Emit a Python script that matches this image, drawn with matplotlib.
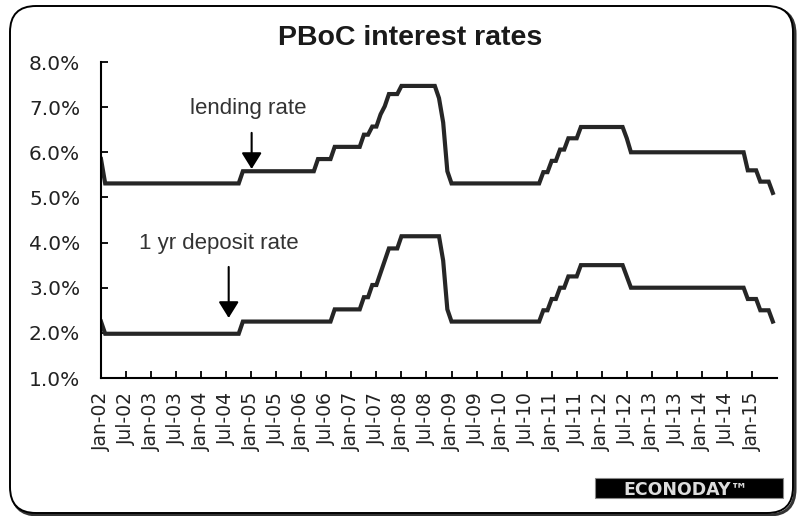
import matplotlib
matplotlib.use("Agg")
import matplotlib.pyplot as plt
from matplotlib.patches import FancyBboxPatch, Rectangle
from matplotlib.transforms import IdentityTransform

# monthly values in percent, Jan-02 .. Jun-15 (one row per year)
lending_rate = [
    5.85, 5.31, 5.31, 5.31, 5.31, 5.31, 5.31, 5.31, 5.31, 5.31, 5.31, 5.31,  # 2002
    5.31, 5.31, 5.31, 5.31, 5.31, 5.31, 5.31, 5.31, 5.31, 5.31, 5.31, 5.31,  # 2003
    5.31, 5.31, 5.31, 5.31, 5.31, 5.31, 5.31, 5.31, 5.31, 5.31, 5.58, 5.58,  # 2004
    5.58, 5.58, 5.58, 5.58, 5.58, 5.58, 5.58, 5.58, 5.58, 5.58, 5.58, 5.58,  # 2005
    5.58, 5.58, 5.58, 5.58, 5.85, 5.85, 5.85, 5.85, 6.12, 6.12, 6.12, 6.12,  # 2006
    6.12, 6.12, 6.12, 6.39, 6.39, 6.57, 6.57, 6.84, 7.02, 7.29, 7.29, 7.29,  # 2007
    7.47, 7.47, 7.47, 7.47, 7.47, 7.47, 7.47, 7.47, 7.47, 7.20, 6.66, 5.58,  # 2008
    5.31, 5.31, 5.31, 5.31, 5.31, 5.31, 5.31, 5.31, 5.31, 5.31, 5.31, 5.31,  # 2009
    5.31, 5.31, 5.31, 5.31, 5.31, 5.31, 5.31, 5.31, 5.31, 5.31, 5.56, 5.56,  # 2010
    5.81, 5.81, 6.06, 6.06, 6.31, 6.31, 6.31, 6.56, 6.56, 6.56, 6.56, 6.56,  # 2011
    6.56, 6.56, 6.56, 6.56, 6.56, 6.56, 6.31, 6.00, 6.00, 6.00, 6.00, 6.00,  # 2012
    6.00, 6.00, 6.00, 6.00, 6.00, 6.00, 6.00, 6.00, 6.00, 6.00, 6.00, 6.00,  # 2013
    6.00, 6.00, 6.00, 6.00, 6.00, 6.00, 6.00, 6.00, 6.00, 6.00, 6.00, 5.60,  # 2014
    5.60, 5.60, 5.35, 5.35, 5.35, 5.10,                                      # 2015
]

deposit_rate = [
    2.25, 1.98, 1.98, 1.98, 1.98, 1.98, 1.98, 1.98, 1.98, 1.98, 1.98, 1.98,  # 2002
    1.98, 1.98, 1.98, 1.98, 1.98, 1.98, 1.98, 1.98, 1.98, 1.98, 1.98, 1.98,  # 2003
    1.98, 1.98, 1.98, 1.98, 1.98, 1.98, 1.98, 1.98, 1.98, 1.98, 2.25, 2.25,  # 2004
    2.25, 2.25, 2.25, 2.25, 2.25, 2.25, 2.25, 2.25, 2.25, 2.25, 2.25, 2.25,  # 2005
    2.25, 2.25, 2.25, 2.25, 2.25, 2.25, 2.25, 2.25, 2.52, 2.52, 2.52, 2.52,  # 2006
    2.52, 2.52, 2.52, 2.79, 2.79, 3.06, 3.06, 3.33, 3.60, 3.87, 3.87, 3.87,  # 2007
    4.14, 4.14, 4.14, 4.14, 4.14, 4.14, 4.14, 4.14, 4.14, 4.14, 3.60, 2.52,  # 2008
    2.25, 2.25, 2.25, 2.25, 2.25, 2.25, 2.25, 2.25, 2.25, 2.25, 2.25, 2.25,  # 2009
    2.25, 2.25, 2.25, 2.25, 2.25, 2.25, 2.25, 2.25, 2.25, 2.25, 2.50, 2.50,  # 2010
    2.75, 2.75, 3.00, 3.00, 3.25, 3.25, 3.25, 3.50, 3.50, 3.50, 3.50, 3.50,  # 2011
    3.50, 3.50, 3.50, 3.50, 3.50, 3.50, 3.25, 3.00, 3.00, 3.00, 3.00, 3.00,  # 2012
    3.00, 3.00, 3.00, 3.00, 3.00, 3.00, 3.00, 3.00, 3.00, 3.00, 3.00, 3.00,  # 2013
    3.00, 3.00, 3.00, 3.00, 3.00, 3.00, 3.00, 3.00, 3.00, 3.00, 3.00, 2.75,  # 2014
    2.75, 2.75, 2.50, 2.50, 2.50, 2.25,                                      # 2015
]

tick_labels = [
    "Jan-02", "Jul-02", "Jan-03", "Jul-03", "Jan-04", "Jul-04", "Jan-05",
    "Jul-05", "Jan-06", "Jul-06", "Jan-07", "Jul-07", "Jan-08", "Jul-08",
    "Jan-09", "Jul-09", "Jan-10", "Jul-10", "Jan-11", "Jul-11", "Jan-12",
    "Jul-12", "Jan-13", "Jul-13", "Jan-14", "Jul-14", "Jan-15",
]
y_ticks = [1.0, 2.0, 3.0, 4.0, 5.0, 6.0, 7.0, 8.0]

LINE = "#262626"


def draw_frame(fig):
    # rounded chart border with a little shadow at the bottom right
    shadow = FancyBboxPatch((12, 1), 783, 507, boxstyle="round,pad=0,rounding_size=26",
                            transform=IdentityTransform(), facecolor="none",
                            edgecolor="#333333", linewidth=2.2, zorder=0)
    border = FancyBboxPatch((10, 3), 783, 507, boxstyle="round,pad=0,rounding_size=26",
                            transform=IdentityTransform(), facecolor="white",
                            edgecolor="black", linewidth=1.4, zorder=0)
    fig.add_artist(shadow)
    fig.add_artist(border)


def draw_logo(fig):
    box = Rectangle((595, 18), 188, 20, transform=IdentityTransform(),
                    facecolor="black", edgecolor="#888888", linewidth=0.8)
    fig.add_artist(box)
    fig.text(686 / 797, 28 / 516, "ECONODAY\u2122", color="#dddddd",
             fontsize=12.5, fontweight="bold", family="DejaVu Sans",
             ha="center", va="center_baseline")


def main():
    fig = plt.figure(figsize=(7.97, 5.16), dpi=100)
    draw_frame(fig)

    ax = fig.add_axes([101 / 797, 138 / 516, 676 / 797, 316 / 516])
    ax.patch.set_alpha(0)

    months = range(len(lending_rate))
    ax.plot(months, lending_rate, color=LINE, lw=3, solid_joinstyle="miter")
    ax.plot(months, deposit_rate, color=LINE, lw=3, solid_joinstyle="miter")

    ax.set_xlim(0, 162)
    ax.set_ylim(1.0, 8.0)
    ax.set_yticks(y_ticks, [f"{v:.1f}%" for v in y_ticks])
    ax.set_xticks(range(0, 6 * len(tick_labels), 6), tick_labels, rotation=90)

    for side in ("top", "right"):
        ax.spines[side].set_visible(False)
    for side in ("left", "bottom"):
        ax.spines[side].set_linewidth(1.5)
        ax.spines[side].set_color("black")
    ax.tick_params(axis="both", direction="in", length=5, width=1.3, color="black")
    ax.tick_params(axis="y", pad=15, labelsize=14.5, labelcolor="#222222")
    ax.tick_params(axis="x", pad=10, labelsize=13.5, labelcolor="#222222")
    for lab in ax.get_yticklabels() + ax.get_xticklabels():
        lab.set_family("DejaVu Sans")

    # annotations
    arrow = dict(arrowstyle="-|>,head_length=0.45,head_width=0.28", color="black",
                 lw=1.5, mutation_scale=22, shrinkA=0, shrinkB=0)
    ax.text(35.3, 6.98, "lending rate", fontsize=16, family="Liberation Sans",
            color="#333333", ha="center", va="center")
    ax.annotate("", xy=(36.1, 5.63), xytext=(36.1, 6.43), arrowprops=arrow)
    ax.text(28.3, 3.99, "1 yr deposit rate", fontsize=16, family="Liberation Sans",
            color="#333333", ha="center", va="center")
    ax.annotate("", xy=(30.6, 2.33), xytext=(30.6, 3.46), arrowprops=arrow)

    fig.text(410 / 797, 1 - 38 / 516, "PBoC interest rates", fontsize=20.5,
             fontweight="bold", family="Liberation Sans", color="#1a1a1a",
             ha="center", va="center")

    draw_logo(fig)
    fig.savefig("out.png", dpi=100, facecolor="white")


if __name__ == "__main__":
    main()
